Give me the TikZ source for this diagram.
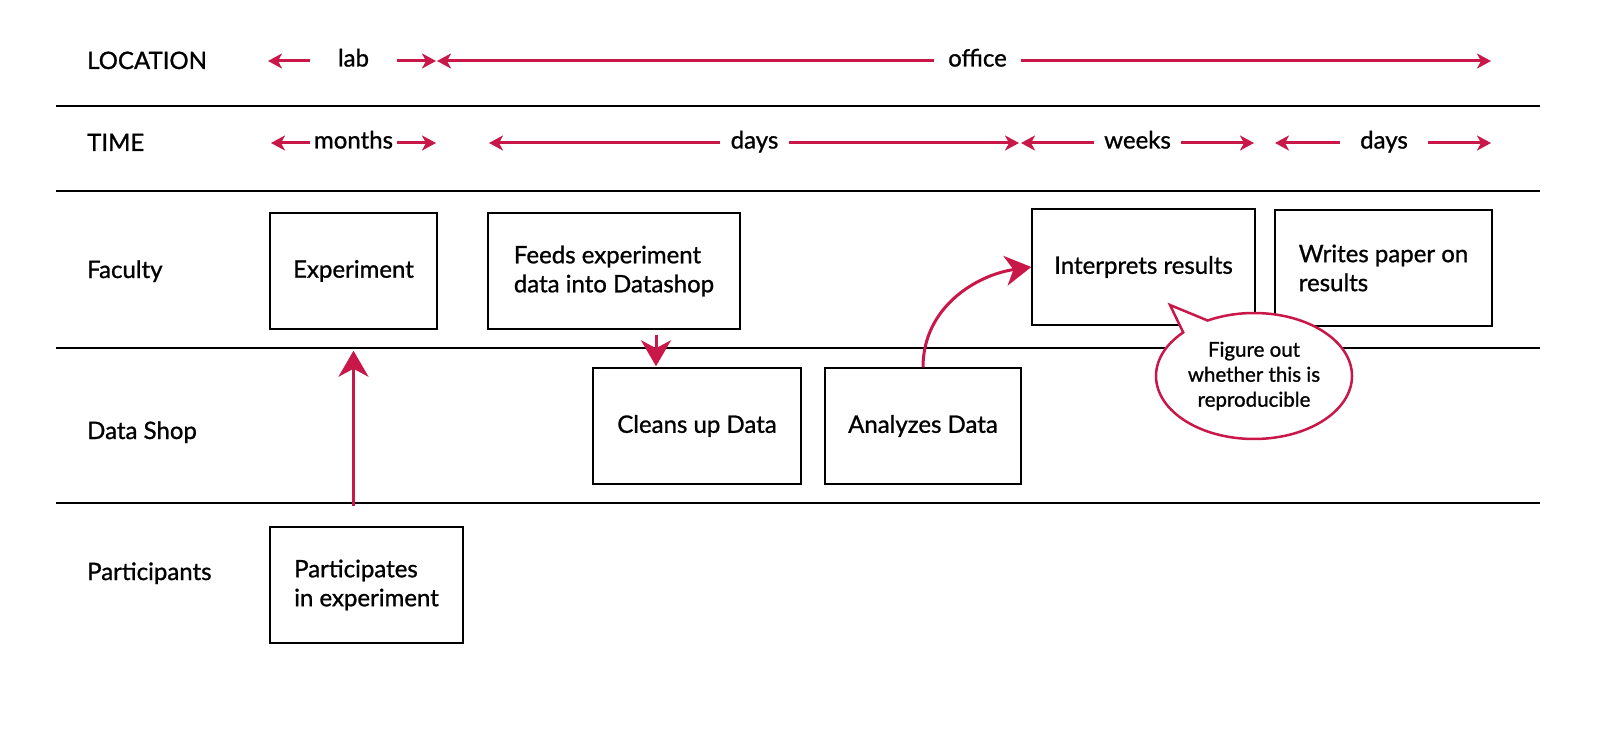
\documentclass[tikz,border=0pt]{standalone}
\usepackage{fontspec}
\setmainfont{Lato}[FakeBold=1]
\usetikzlibrary{positioning,arrows.meta,shapes.callouts}
\definecolor{crimson}{RGB}{200,23,72}

\begin{document}
\begin{tikzpicture} [
		x=1pt, y=-1pt,
		every node/.style={font=\fontsize{24}{29}\selectfont},
		block/.style    = { rectangle, draw=black, line width=1.5pt,
			minimum height=116pt, inner sep=0pt, align=left },
		rowlbl/.style   = { anchor=base west, inner sep=0pt },
		tag/.style      = { inner sep=0pt, text height=16pt, text depth=5pt },
		lane/.style     = { draw=black, line width=1.3pt },
		span/.style     = { draw=crimson, line width=3pt,
			-{Stealth[length=14pt,width=15pt,inset=4pt]} },
		flow/.style     = { draw=crimson, line width=3pt,
			-{Stealth[length=26pt,width=30pt,inset=8pt]} },
		note/.style     = { ellipse callout, draw=crimson, line width=2.5pt,
			fill=white, minimum width=196pt, minimum height=126pt,
			inner sep=0pt, align=center, callout pointer arc=18,
			font=\fontsize{20.5}{25}\selectfont },
		]
		\useasboundingbox (0,0) rectangle (1600,746);
		% swim lanes
		\draw[lane] (56,106) -- (1540,106);
		\draw[lane] (56,191) -- (1540,191);
		\draw[lane] (56,348) -- (1540,348);
		\draw[lane] (56,503) -- (1540,503);
		% row labels
		\node[rowlbl] (rloc)  at (87,69)  {LOCATION};
		\node[rowlbl] (rtime) at (87,151) {TIME};
		\node[rowlbl] (rfac)  at (87,278) {Faculty};
		\node[rowlbl] (rshop) at (87,439) {Data Shop};
		\node[rowlbl] (rpart) at (87,580) {Participants};
		% timeline labels and their ends
		\node[tag, minimum width=87pt] (lab)    at (353.5,61)  {lab};
		\node[tag, minimum width=86pt] (office) at (977.5,61)  {office};
		\node[tag, minimum width=87pt] (months) at (353.5,143) {months};
		\node[tag, minimum width=69pt] (days)   at (754.5,143) {days};
		\node[tag, minimum width=87pt] (weeks)  at (1137.5,143) {weeks};
		\node[tag, minimum width=88pt] (days2)  at (1384,143)  {days};
		\coordinate (lab-l)    at (268,61);
		\coordinate (lab-r)    at (436,61);
		\coordinate (office-l) at (437,61);
		\coordinate (office-r) at (1491,61);
		\coordinate (months-l) at (271,143);
		\coordinate (months-r) at (436,143);
		\coordinate (days-l)   at (489,143);
		\coordinate (days-r)   at (1019,143);
		\coordinate (weeks-l)  at (1021,143);
		\coordinate (weeks-r)  at (1254,143);
		\coordinate (days2-l)  at (1275,143);
		\coordinate (days2-r)  at (1491,143);
		% steps
		\node[block, minimum width=167pt] (experiment) at (353.5,271) {Experiment};
		\node[block, minimum width=252pt] (feeds) at (614,271) {Feeds experiment\\data into Datashop};
		\node[block, minimum width=208pt] (cleans) at (697,426) {Cleans up Data};
		\node[block, minimum width=196pt] (analyzes) at (923,426) {Analyzes Data};
		\node[block, minimum width=223pt] (interprets) at (1143.5,267) {Interprets results};
		\node[block, minimum width=217pt] (writes) at (1383.5,268) {Writes paper on\\results};
		\node[block, minimum width=193pt] (participates) at (366.5,585) {Participates\\in experiment};
		% connect all nodes defined above
		\begin{scope} [every path/.style=span]
		\path (lab.west)    -- (lab-l);
		\path (lab.east)    -- (lab-r);
		\path (office.west) -- (office-l);
		\path (office.east) -- (office-r);
		\path (months.west) -- (months-l);
		\path (months.east) -- (months-r);
		\path (days.west)   -- (days-l);
		\path (days.east)   -- (days-r);
		\path (weeks.west)  -- (weeks-l);
		\path (weeks.east)  -- (weeks-r);
		\path (days2.west)  -- (days2-l);
		\path (days2.east)  -- (days2-r);
		\end{scope}
		\draw[flow, shorten <=20pt, shorten >=21pt]
		(participates.north -| experiment.south) -- (experiment.south);
		\draw[flow, shorten <=5pt, shorten >=1pt]
		([xshift=42pt] feeds.south) -- ([xshift=42pt] feeds.south |- cleans.north);
		\draw[flow]
		(analyzes.north) .. controls +(0,-60) and +(-55,8) .. (interprets.west);
		% remark
		\coordinate (hint) at (1170,305);
		\node[note, callout absolute pointer=(hint)] (remark) at (1254,376)
		{Figure out\\whether this is\\reproducible};
		\end{tikzpicture}
\end{document}
